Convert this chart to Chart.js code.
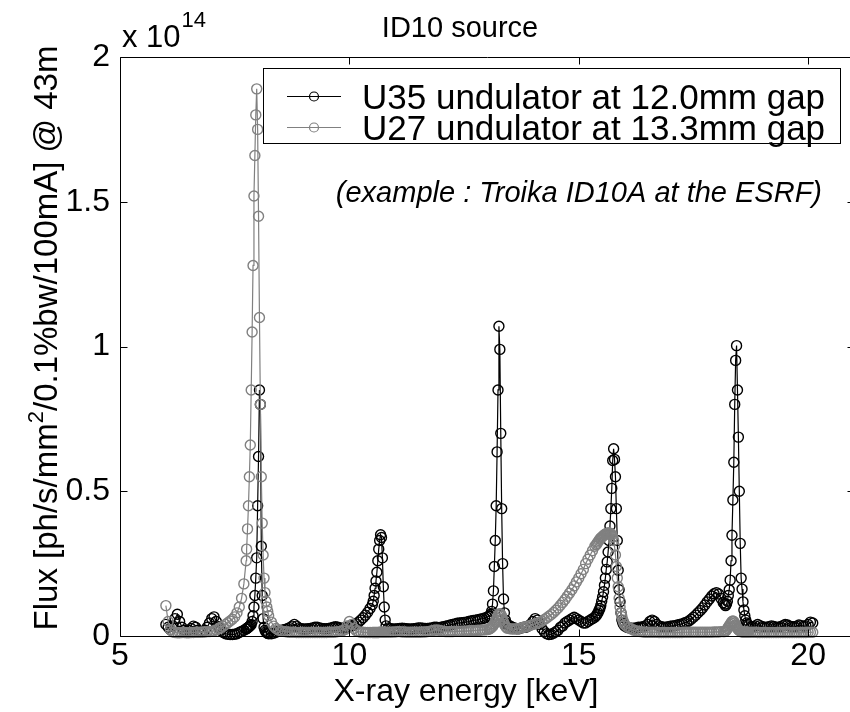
<!DOCTYPE html>
<html>
<head>
<meta charset="utf-8">
<title>ID10 source</title>
<script src="https://cdn.jsdelivr.net/npm/chart.js@4.4.1/dist/chart.umd.min.js"></script>
<style>
  html, body { margin: 0; padding: 0; background: #fff; overflow: hidden; }
  #wrap { width: 850px; height: 712px; overflow: hidden; }
  canvas { display: block; }
</style>
</head>
<body>
<div id="wrap"><canvas id="fluxChart" width="870" height="712"></canvas></div>
<script>
// photon energy grid [keV], finer step around the harmonic peaks
const energy = [
  6.00, 6.05, 6.10, 6.15, 6.20, 6.25, 6.30, 6.35, 6.40, 6.45,
  6.50, 6.55, 6.60, 6.65, 6.70, 6.75, 6.80, 6.85, 6.90, 6.95,
  7.00, 7.05, 7.10, 7.15, 7.20, 7.25, 7.30, 7.35, 7.40, 7.45,
  7.50, 7.55, 7.60, 7.65, 7.70, 7.75,
  7.76, 7.78, 7.80, 7.82, 7.84, 7.86, 7.88, 7.90, 7.92, 7.94,
  7.96, 7.98, 8.00, 8.02, 8.04, 8.06, 8.08, 8.10, 8.12, 8.14,
  8.16, 8.18, 8.20, 8.22, 8.24,
  8.30, 8.35, 8.40, 8.45, 8.50, 8.55, 8.60, 8.65, 8.70, 8.75,
  8.80, 8.85, 8.90, 8.95, 9.00, 9.05, 9.10, 9.15, 9.20, 9.25,
  9.30, 9.35, 9.40, 9.45, 9.50, 9.55, 9.60, 9.65, 9.70, 9.75,
  9.80, 9.85, 9.90, 9.95, 10.00, 10.05, 10.10, 10.15, 10.20, 10.25,
  10.30, 10.35, 10.40, 10.45, 10.50,
  10.52, 10.54, 10.56, 10.58, 10.60, 10.62, 10.64, 10.66, 10.68, 10.70,
  10.72, 10.74, 10.76, 10.78, 10.80,
  10.85, 10.90, 10.95, 11.00, 11.05, 11.10, 11.15, 11.20, 11.25, 11.30,
  11.35, 11.40, 11.45, 11.50, 11.55, 11.60, 11.65, 11.70, 11.75, 11.80,
  11.85, 11.90, 11.95, 12.00, 12.05, 12.10, 12.15, 12.20, 12.25, 12.30,
  12.35, 12.40, 12.45, 12.50, 12.55, 12.60, 12.65, 12.70, 12.75, 12.80,
  12.85, 12.90, 12.95, 13.00,
  13.04, 13.06, 13.08, 13.10, 13.12, 13.14, 13.16, 13.18, 13.20, 13.22,
  13.24, 13.26, 13.28, 13.30, 13.32, 13.34, 13.36, 13.38, 13.40, 13.42,
  13.44,
  13.50, 13.55, 13.60, 13.65, 13.70, 13.75, 13.80, 13.85, 13.90, 13.95,
  14.00, 14.05, 14.10, 14.15, 14.20, 14.25, 14.30, 14.35, 14.40, 14.45,
  14.50, 14.55, 14.60, 14.65, 14.70, 14.75, 14.80, 14.85, 14.90, 14.95,
  15.00, 15.05, 15.10, 15.15, 15.20, 15.25, 15.30, 15.35,
  15.38, 15.40, 15.42, 15.44, 15.46, 15.48, 15.50, 15.52, 15.54, 15.56,
  15.58, 15.60, 15.62, 15.64, 15.66, 15.68, 15.70, 15.72, 15.74, 15.76,
  15.78, 15.80, 15.82, 15.84, 15.86, 15.88, 15.90, 15.92, 15.94, 15.96,
  15.98,
  16.00, 16.05, 16.10, 16.15, 16.20, 16.25, 16.30, 16.35, 16.40, 16.45,
  16.50, 16.55, 16.60, 16.65, 16.70, 16.75, 16.80, 16.85, 16.90, 16.95,
  17.00, 17.05, 17.10, 17.15, 17.20, 17.25, 17.30, 17.35, 17.40, 17.45,
  17.50, 17.55, 17.60, 17.65, 17.70, 17.75, 17.80, 17.85, 17.90, 17.95,
  18.00, 18.05, 18.10, 18.15,
  18.18, 18.20, 18.22, 18.24, 18.26, 18.28, 18.30, 18.32, 18.34, 18.36,
  18.38, 18.40, 18.42, 18.44, 18.46, 18.48, 18.50, 18.52, 18.54, 18.56,
  18.58, 18.60, 18.62, 18.64, 18.66, 18.68, 18.70,
  18.75, 18.80, 18.85, 18.90, 18.95, 19.00, 19.05, 19.10, 19.15, 19.20,
  19.25, 19.30, 19.35, 19.40, 19.45, 19.50, 19.55, 19.60, 19.65, 19.70,
  19.75, 19.80, 19.85, 19.90, 19.95, 20.00, 20.05, 20.10
];

// flux in units of 1e14 ph/s/mm2/0.1%bw/100mA, U35 at 12.0 mm gap
const fluxU35 = [
  0.040, 0.030, 0.022, 0.035, 0.060, 0.075, 0.050, 0.030, 0.020, 0.016,
  0.020, 0.026, 0.034, 0.030, 0.020, 0.016, 0.015, 0.020, 0.030, 0.045,
  0.060, 0.066, 0.050, 0.032, 0.020, 0.012, 0.008, 0.006, 0.005, 0.005,
  0.006, 0.008, 0.012, 0.016, 0.020, 0.024,
  0.025, 0.028, 0.030, 0.033, 0.036, 0.040, 0.050, 0.070, 0.100, 0.140,
  0.200, 0.270, 0.450, 0.620, 0.850, 0.800, 0.310, 0.140, 0.060, 0.030,
  0.020, 0.015, 0.011, 0.009, 0.008,
  0.008, 0.010, 0.013, 0.016, 0.019, 0.021, 0.023, 0.025, 0.029, 0.034,
  0.040, 0.034, 0.028, 0.025, 0.024, 0.024, 0.025, 0.026, 0.028, 0.030,
  0.030, 0.028, 0.026, 0.025, 0.025, 0.026, 0.028, 0.030, 0.032, 0.030,
  0.028, 0.027, 0.028, 0.030, 0.032, 0.035, 0.038, 0.042, 0.048, 0.055,
  0.063, 0.072, 0.082, 0.095, 0.108,
  0.120, 0.140, 0.165, 0.190, 0.220, 0.260, 0.300, 0.330, 0.350, 0.340,
  0.270, 0.170, 0.100, 0.055, 0.035,
  0.028, 0.025, 0.024, 0.024, 0.025, 0.026, 0.027, 0.026, 0.025, 0.024,
  0.024, 0.025, 0.026, 0.028, 0.028, 0.027, 0.026, 0.026, 0.027, 0.028,
  0.030, 0.030, 0.029, 0.030, 0.032, 0.034, 0.036, 0.038, 0.040, 0.042,
  0.044, 0.045, 0.046, 0.047, 0.048, 0.050, 0.052, 0.054, 0.055, 0.056,
  0.058, 0.060, 0.062, 0.065,
  0.068, 0.070, 0.075, 0.085, 0.110, 0.156, 0.240, 0.330, 0.450, 0.636,
  0.850, 1.070, 0.990, 0.700, 0.440, 0.250, 0.128, 0.080, 0.055, 0.045,
  0.040,
  0.035, 0.030, 0.028, 0.025, 0.025, 0.028, 0.030, 0.030, 0.035, 0.040,
  0.050, 0.060, 0.055, 0.040, 0.025, 0.015, 0.008, 0.005, 0.006, 0.010,
  0.015, 0.020, 0.030, 0.035, 0.045, 0.050, 0.055, 0.060, 0.065, 0.060,
  0.055, 0.050, 0.045, 0.045, 0.050, 0.055, 0.060, 0.065,
  0.070, 0.075, 0.080, 0.088, 0.095, 0.105, 0.120, 0.135, 0.153, 0.175,
  0.200, 0.230, 0.256, 0.290, 0.330, 0.380, 0.440, 0.510, 0.606, 0.647,
  0.610, 0.550, 0.440, 0.330, 0.227, 0.160, 0.118, 0.080, 0.055, 0.045,
  0.040,
  0.035, 0.030, 0.028, 0.027, 0.027, 0.028, 0.030, 0.030, 0.032, 0.035,
  0.040, 0.050, 0.055, 0.050, 0.040, 0.035, 0.032, 0.030, 0.030, 0.032,
  0.034, 0.035, 0.036, 0.038, 0.040, 0.042, 0.045, 0.048, 0.052, 0.058,
  0.065, 0.072, 0.080, 0.088, 0.097, 0.107, 0.118, 0.128, 0.138, 0.146,
  0.150, 0.145, 0.130, 0.115,
  0.110, 0.105, 0.110, 0.120, 0.140, 0.160, 0.193, 0.260, 0.348, 0.470,
  0.600, 0.800, 0.952, 1.003, 0.850, 0.687, 0.500, 0.320, 0.200, 0.162,
  0.118, 0.090, 0.070, 0.055, 0.045, 0.040, 0.035,
  0.032, 0.032, 0.035, 0.040, 0.036, 0.032, 0.030, 0.030, 0.032, 0.035,
  0.033, 0.030, 0.030, 0.032, 0.036, 0.040, 0.038, 0.034, 0.032, 0.032,
  0.034, 0.038, 0.036, 0.034, 0.035, 0.040, 0.048, 0.045
];

// same units, U27 at 13.3 mm gap
const fluxU27 = [
  0.105, 0.050, 0.022, 0.014, 0.012, 0.011, 0.011, 0.012, 0.012, 0.011,
  0.011, 0.012, 0.012, 0.013, 0.013, 0.013, 0.014, 0.014, 0.015, 0.015,
  0.016, 0.018, 0.021, 0.025, 0.029, 0.034, 0.040, 0.046, 0.052, 0.058,
  0.066, 0.080, 0.100, 0.130, 0.180, 0.260,
  0.300, 0.370, 0.450, 0.550, 0.660, 0.850, 1.050, 1.280, 1.520, 1.660,
  1.800, 1.890, 1.750, 1.450, 1.100, 0.800, 0.550, 0.390, 0.280, 0.200,
  0.150, 0.120, 0.100, 0.085, 0.070,
  0.048, 0.034, 0.026, 0.021, 0.018, 0.016, 0.015, 0.014, 0.013, 0.013,
  0.013, 0.012, 0.012, 0.012, 0.012, 0.012, 0.012, 0.012, 0.012, 0.012,
  0.012, 0.012, 0.012, 0.012, 0.012, 0.013, 0.013, 0.013, 0.014, 0.015,
  0.016, 0.018, 0.022, 0.035, 0.050, 0.040, 0.026, 0.018, 0.015, 0.013,
  0.013, 0.012, 0.012, 0.012, 0.012,
  0.012, 0.012, 0.012, 0.012, 0.012, 0.012, 0.012, 0.013, 0.013, 0.013,
  0.013, 0.013, 0.013, 0.013, 0.013,
  0.013, 0.013, 0.014, 0.014, 0.015, 0.015, 0.014, 0.014, 0.013, 0.013,
  0.013, 0.013, 0.013, 0.013, 0.013, 0.014, 0.014, 0.015, 0.016, 0.018,
  0.020, 0.021, 0.020, 0.018, 0.016, 0.015, 0.015, 0.015, 0.015, 0.016,
  0.016, 0.016, 0.017, 0.017, 0.017, 0.018, 0.018, 0.019, 0.019, 0.020,
  0.020, 0.021, 0.021, 0.022,
  0.023, 0.025, 0.027, 0.030, 0.033, 0.037, 0.042, 0.048, 0.055, 0.062,
  0.070, 0.075, 0.077, 0.075, 0.068, 0.058, 0.048, 0.040, 0.034, 0.030,
  0.027,
  0.025, 0.024, 0.024, 0.025, 0.026, 0.028, 0.030, 0.032, 0.034, 0.037,
  0.040, 0.042, 0.045, 0.048, 0.052, 0.057, 0.062, 0.068, 0.074, 0.081,
  0.089, 0.097, 0.106, 0.116, 0.126, 0.137, 0.148, 0.160, 0.173, 0.187,
  0.200, 0.215, 0.230, 0.250, 0.265, 0.280, 0.295, 0.310,
  0.315, 0.320, 0.325, 0.330, 0.334, 0.338, 0.341, 0.344, 0.347, 0.350,
  0.352, 0.354, 0.355, 0.356, 0.356, 0.355, 0.353, 0.350, 0.343, 0.330,
  0.310, 0.280, 0.240, 0.200, 0.170, 0.130, 0.100, 0.080, 0.067, 0.055,
  0.047,
  0.040, 0.033, 0.028, 0.024, 0.020, 0.018, 0.016, 0.015, 0.014, 0.013,
  0.013, 0.013, 0.013, 0.013, 0.013, 0.012, 0.012, 0.012, 0.012, 0.012,
  0.012, 0.012, 0.012, 0.012, 0.012, 0.012, 0.013, 0.013, 0.013, 0.013,
  0.013, 0.013, 0.013, 0.013, 0.013, 0.013, 0.013, 0.013, 0.013, 0.014,
  0.014, 0.014, 0.015, 0.015,
  0.015, 0.017, 0.020, 0.025, 0.030, 0.035, 0.040, 0.045, 0.050, 0.052,
  0.050, 0.045, 0.038, 0.032, 0.026, 0.022, 0.019, 0.017, 0.015, 0.014,
  0.014, 0.013, 0.013, 0.013, 0.013, 0.013, 0.013,
  0.013, 0.013, 0.013, 0.012, 0.012, 0.012, 0.012, 0.012, 0.012, 0.012,
  0.012, 0.012, 0.012, 0.012, 0.012, 0.012, 0.012, 0.012, 0.012, 0.012,
  0.012, 0.012, 0.012, 0.012, 0.012, 0.013, 0.013, 0.013
];

const seriesLabels = ['U35 undulator at 12.0mm gap', 'U27 undulator at 13.3mm gap'];
const xTicks = [5, 10, 15, 20];
const yTicks = [0, 0.5, 1, 1.5, 2];

if (fluxU35.length !== energy.length || fluxU27.length !== energy.length) {
    console.warn('length mismatch', energy.length, fluxU35.length, fluxU27.length);
}

const FONT = '"Liberation Sans", Arial, Helvetica, sans-serif';
Chart.defaults.font.family = FONT;
Chart.defaults.color = '#000';

function toPoints(values) {
    return energy.map((e, i) => ({ x: e, y: values[i] }));
}

function lineStyle(color, order) {
    return {
        borderColor: color,
        borderWidth: 1.2,
        pointRadius: 5,
        pointBorderWidth: 1.4,
        pointBorderColor: color,
        pointBackgroundColor: 'rgba(0,0,0,0)',
        tension: 0,
        clip: false,
        order: order
    };
}

// text helper
function drawText(ctx, str, x, y, size, align, style) {
    ctx.font = (style || '') + ' ' + size + 'px ' + FONT;
    ctx.textAlign = align || 'left';
    ctx.textBaseline = 'alphabetic';
    ctx.fillStyle = '#000';
    ctx.fillText(str, x, y);
    return ctx.measureText(str).width;
}

// axes box, inward tick marks, labels and the legend box
const matlabFrame = {
    id: 'matlabFrame',
    afterDraw(chart) {
        const ctx = chart.ctx;
        const area = chart.chartArea;
        const xs = chart.scales.x, ys = chart.scales.y;
        const L = Math.round(area.left) + 0.5, R = Math.round(area.right) + 0.5;
        const T = Math.round(area.top) + 0.5, B = Math.round(area.bottom) + 0.5;
        const tick = 7;

        ctx.save();
        ctx.strokeStyle = '#000';
        ctx.lineWidth = 1;
        ctx.beginPath();
        ctx.rect(L, T, R - L, B - T);
        xTicks.forEach(v => {
            const px = Math.round(xs.getPixelForValue(v)) + 0.5;
            ctx.moveTo(px, B); ctx.lineTo(px, B - tick);
            ctx.moveTo(px, T); ctx.lineTo(px, T + tick);
        });
        yTicks.forEach(v => {
            const py = Math.round(ys.getPixelForValue(v)) + 0.5;
            ctx.moveTo(L, py); ctx.lineTo(L + tick, py);
            ctx.moveTo(R, py); ctx.lineTo(R - tick, py);
        });
        ctx.stroke();

        drawText(ctx, 'ID10 source', 460, 37, 29, 'center');
        drawText(ctx, 'X-ray energy [keV]', 466, 701, 32, 'center');

        // exponent above the y axis
        const w = drawText(ctx, 'x 10', 122, 47, 31, 'left');
        drawText(ctx, '14', 122 + w + 1, 27, 22, 'left');

        drawText(ctx, '(example : Troika ID10A at the ESRF)', 822, 202, 29, 'right', 'italic');

        // rotated y label with superscript
        const partA = 'Flux [ph/s/mm', sup = '2', partB = '/0.1%bw/100mA] @ 43m';
        ctx.font = '33px ' + FONT;
        const wa = ctx.measureText(partA).width, wb = ctx.measureText(partB).width;
        ctx.font = '22px ' + FONT;
        const ws = ctx.measureText(sup).width;
        const total = wa + ws + wb;
        ctx.save();
        ctx.translate(57, 338);
        ctx.rotate(-Math.PI / 2);
        let x0 = -total / 2;
        drawText(ctx, partA, x0, 0, 33, 'left');
        drawText(ctx, sup, x0 + wa, -14, 22, 'left');
        drawText(ctx, partB, x0 + wa + ws, 0, 33, 'left');
        ctx.restore();

        // legend
        const box = { left: 263.5, top: 68.5, right: 840.5, bottom: 143.5 };
        ctx.fillStyle = '#fff';
        ctx.fillRect(box.left, box.top, box.right - box.left, box.bottom - box.top);
        ctx.strokeRect(box.left, box.top, box.right - box.left, box.bottom - box.top);
        const rows = [96.5, 127.5];
        chart.data.datasets.forEach(ds => {
            const row = rows[ds.legendRow];
            ctx.strokeStyle = ds.borderColor;
            ctx.lineWidth = 1.2;
            ctx.beginPath();
            ctx.moveTo(287, row); ctx.lineTo(341, row);
            ctx.stroke();
            ctx.beginPath();
            ctx.arc(314, row, 4.5, 0, Math.PI * 2);
            ctx.stroke();
            drawText(ctx, ds.label, 362, row + 12, 35, 'left');
        });
        ctx.restore();
    }
};

new Chart(document.getElementById('fluxChart'), {
    type: 'line',
    data: {
        datasets: [
            Object.assign({ label: seriesLabels[1], data: toPoints(fluxU27), legendRow: 1 }, lineStyle('#808080', 0)),
            Object.assign({ label: seriesLabels[0], data: toPoints(fluxU35), legendRow: 0 }, lineStyle('#000000', 1))
        ]
    },
    options: {
        responsive: false,
        animation: false,
        layout: { padding: { top: 57, right: 16, left: 0, bottom: 0 } },
        plugins: {
            legend: { display: false },
            tooltip: { enabled: false }
        },
        scales: {
            x: {
                type: 'linear',
                min: 5,
                max: 21,
                grid: { display: false, drawTicks: false },
                border: { display: false },
                ticks: { font: { size: 32 }, color: '#000', padding: 1, maxRotation: 0, callback: v => String(v) },
                afterBuildTicks: axis => { axis.ticks = xTicks.map(v => ({ value: v })); },
                afterFit: axis => { axis.height = 76; }
            },
            y: {
                type: 'linear',
                min: 0,
                max: 2,
                grid: { display: false, drawTicks: false },
                border: { display: false },
                ticks: { font: { size: 32 }, color: '#000', padding: 10, callback: v => String(v) },
                afterBuildTicks: axis => { axis.ticks = yTicks.map(v => ({ value: v })); },
                afterFit: axis => { axis.width = 120; }
            }
        }
    },
    plugins: [matlabFrame]
});
</script>
</body>
</html>
